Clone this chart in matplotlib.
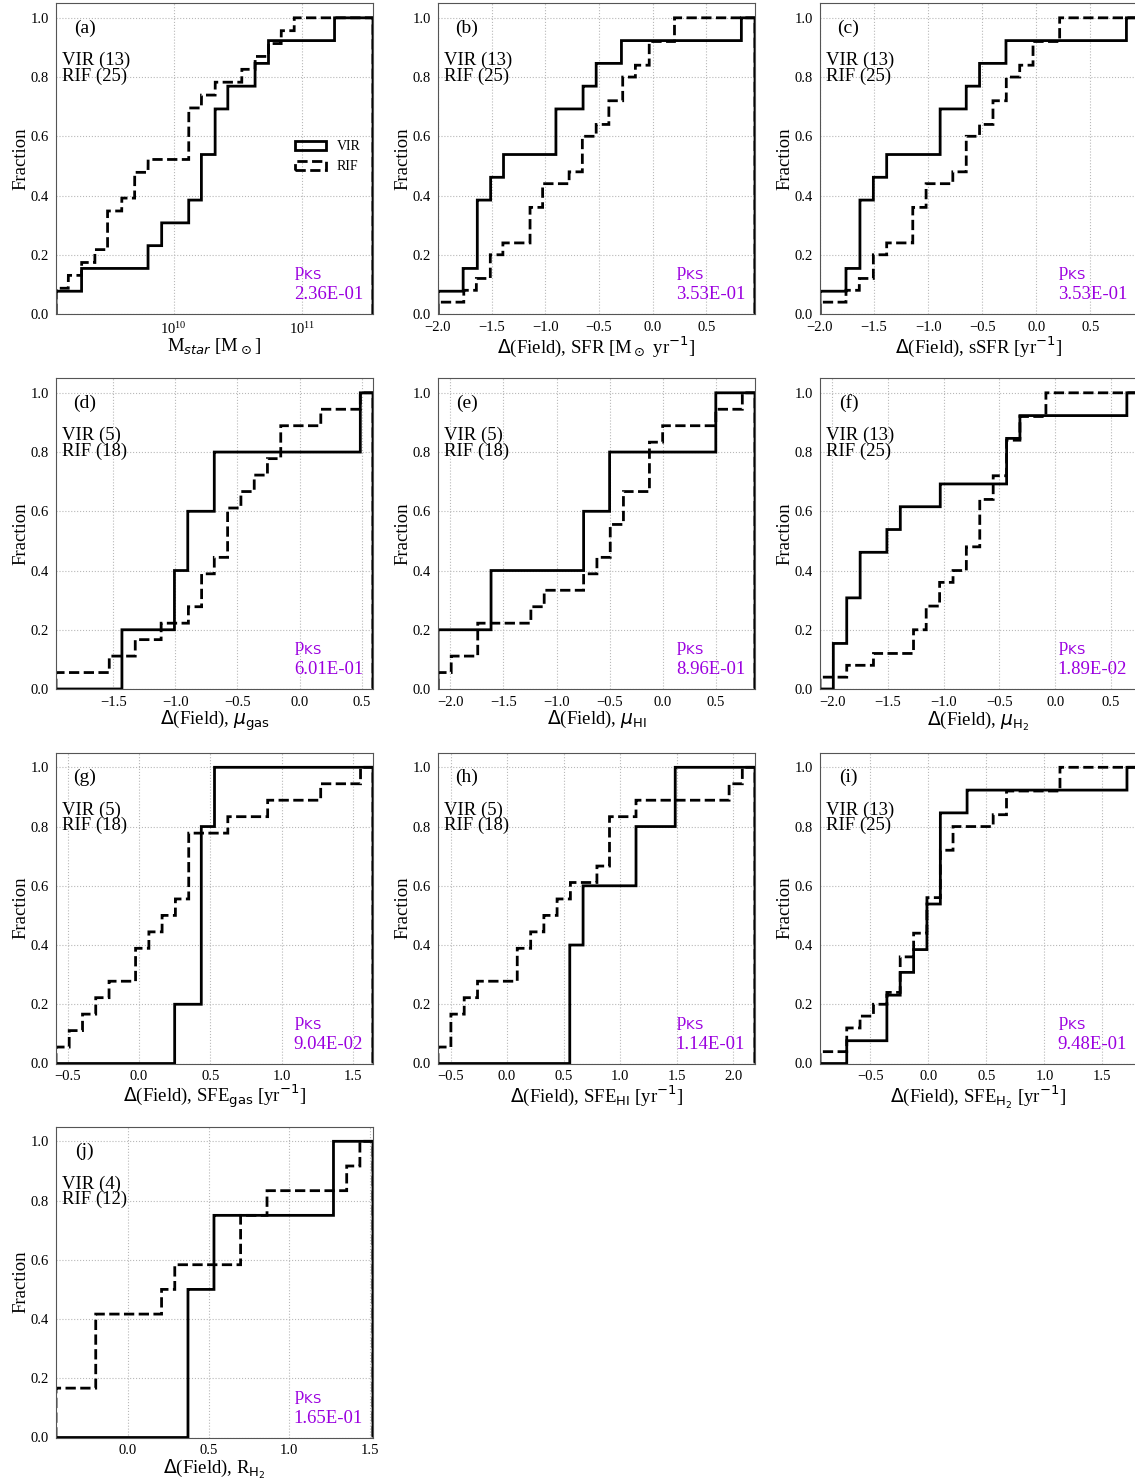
import numpy as np
import matplotlib
matplotlib.use('Agg')
import matplotlib.pyplot as plt

plt.rcParams['font.family'] = 'serif'
plt.rcParams['font.serif'] = ['Liberation Serif', 'DejaVu Serif']
plt.rcParams['mathtext.fontset'] = 'dejavusans'

FIG_W, FIG_H = 1135, 1483
PURPLE = '#9b00e0'

# (a) log10 stellar mass
mstar_vir = [9.081, 9.281, 9.80, 9.906, 10.117, 10.216, 10.216, 10.323, 10.323,
             10.422, 10.635, 10.740, 11.255]
mstar_rif = [9.081, 9.081, 9.177, 9.281, 9.385, 9.484, 9.484, 9.484, 9.594, 9.695,
             9.695, 9.80, 10.117, 10.117, 10.117, 10.117, 10.216, 10.323, 10.531,
             10.635, 10.740, 10.839, 10.940]
# (b) SFR
sfr_vir = [-2.0, -1.765, -1.633, -1.633, -1.633, -1.509, -1.389, -0.901, -0.901,
           -0.648, -0.525, -0.290, 0.827]
sfr_rif = [-2.0, -1.759, -1.642, -1.512, -1.512, -1.395, -1.142, -1.142, -1.142,
           -1.025, -1.025, -0.778, -0.654, -0.654, -0.654, -0.525, -0.407, -0.407,
           -0.278, -0.278, -0.160, -0.031, -0.031, 0.204, 0.204]
# (c) sSFR
ssfr_vir = [-2.0, -1.759, -1.630, -1.630, -1.630, -1.506, -1.383, -0.889, -0.889,
            -0.648, -0.525, -0.281, 0.833]
ssfr_rif = [-2.0, -1.759, -1.636, -1.506, -1.506, -1.383, -1.142, -1.142, -1.142,
            -1.019, -1.019, -0.772, -0.648, -0.648, -0.648, -0.525, -0.401, -0.401,
            -0.278, -0.278, -0.154, -0.031, -0.031, 0.216, 0.216]
# (d) mu_gas
mugas_vir = [-1.430, -1.007, -0.900, -0.686, 0.489]
mugas_rif = [-1.961, -1.532, -1.323, -1.114, -0.895, -0.788, -0.788, -0.686, -0.579,
             -0.579, -0.579, -0.472, -0.365, -0.258, -0.151, -0.151, 0.171, 0.489]
# (e) mu_HI
muhi_vir = [-2.116, -1.616, -0.744, -0.5, 0.5]
muhi_rif = [-2.116, -1.991, -1.741, -1.741, -1.241, -1.116, -0.744, -0.619, -0.494,
            -0.494, -0.369, -0.369, -0.125, -0.125, -0.125, 0.0, 0.5, 0.75]
# (f) mu_H2
muh2_vir = [-1.988, -1.988, -1.868, -1.868, -1.748, -1.748, -1.508, -1.388, -1.029,
            -0.435, -0.435, -0.315, 0.644]
muh2_rif = [-2.108, -1.868, -1.628, -1.269, -1.269, -1.155, -1.155, -1.035, -1.035,
            -0.915, -0.795, -0.795, -0.675, -0.675, -0.675, -0.675, -0.555, -0.555,
            -0.435, -0.435, -0.435, -0.315, -0.315, -0.082, -0.082]
# (g) SFE_gas
sfegas_vir = [0.251, 0.437, 0.437, 0.437, 0.530]
sfegas_rif = [-0.581, -0.488, -0.395, -0.302, -0.209, -0.023, -0.023, 0.070, 0.163,
              0.256, 0.349, 0.349, 0.349, 0.349, 0.623, 0.902, 1.274, 1.553]
# (h) SFE_HI
sfehi_vir = [0.555, 0.555, 0.673, 1.142, 1.489]
sfehi_rif = [-0.611, -0.496, -0.496, -0.379, -0.261, 0.091, 0.091, 0.209, 0.326,
             0.443, 0.561, 0.796, 0.907, 0.907, 0.907, 1.142, 1.965, 2.082]
# (i) SFE_H2
sfeh2_vir = [-0.703, -0.357, -0.357, -0.242, -0.127, -0.012, -0.012, 0.104, 0.104,
             0.104, 0.104, 0.334, 1.712]
sfeh2_rif = [-0.934, -0.703, -0.703, -0.588, -0.473, -0.357, -0.242, -0.242, -0.242,
             -0.127, -0.127, -0.012, -0.012, -0.012, 0.104, 0.104, 0.104, 0.104,
             0.213, 0.213, 0.559, 0.674, 0.674, 1.135, 1.135]
# (j) R_H2
rh2_vir = [0.372, 0.372, 0.533, 1.274]
rh2_rif = [-0.447, -0.447, -0.200, -0.200, -0.200, 0.208, 0.290, 0.698, 0.698,
           0.862, 1.356, 1.438]

panel_tags = ['(a)', '(b)', '(c)', '(d)', '(e)', '(f)', '(g)', '(h)', '(i)', '(j)']
vir_counts = [13, 13, 13, 5, 5, 13, 5, 5, 13, 4]
rif_counts = [25, 25, 25, 18, 18, 25, 18, 18, 25, 12]
p_ks = [2.36e-01, 3.53e-01, 3.53e-01, 6.01e-01, 8.96e-01, 1.89e-02,
        9.04e-02, 1.14e-01, 9.48e-01, 1.65e-01]
x_labels = [
    r'M$_{star}$ [M$_\odot$]',
    r'$\Delta$(Field), SFR [M$_\odot$ yr$^{-1}$]',
    r'$\Delta$(Field), sSFR [yr$^{-1}$]',
    r'$\Delta$(Field), $\mu_{\rm gas}$',
    r'$\Delta$(Field), $\mu_{\rm HI}$',
    r'$\Delta$(Field), $\mu_{\rm H_2}$',
    r'$\Delta$(Field), SFE$_{\rm gas}$ [yr$^{-1}$]',
    r'$\Delta$(Field), SFE$_{\rm HI}$ [yr$^{-1}$]',
    r'$\Delta$(Field), SFE$_{\rm H_2}$ [yr$^{-1}$]',
    r'$\Delta$(Field), R$_{\rm H_2}$',
]
x_ranges = [(9.081, 11.555), (-2.0, 0.954), (-2.0, 0.93), (-1.961, 0.591),
            (-2.116, 0.869), (-2.108, 0.734), (-0.581, 1.640), (-0.611, 2.194),
            (-0.934, 1.798), (-0.447, 1.519)]
vir_data = [mstar_vir, sfr_vir, ssfr_vir, mugas_vir, muhi_vir, muh2_vir,
            sfegas_vir, sfehi_vir, sfeh2_vir, rh2_vir]
rif_data = [mstar_rif, sfr_rif, ssfr_rif, mugas_rif, muhi_rif, muh2_rif,
            sfegas_rif, sfehi_rif, sfeh2_rif, rh2_rif]

COL_LEFT = [56, 438, 820]
ROW_BOTTOM = [314, 689, 1063.5, 1437.5]
AX_W, AX_H = 317, 311


def cdf_panel(ax, vir, rif, xr, log=False):
    lo, hi = xr
    if log:
        bins = np.logspace(lo, hi, 3001)
        vir = 10 ** np.array(vir)
        rif = 10 ** np.array(rif)
    else:
        bins = np.linspace(lo, hi, 3001)
        vir = np.array(vir)
        rif = np.array(rif)
    ax.hist(vir, bins=bins, weights=np.ones(len(vir)) / len(vir), cumulative=True,
            histtype='step', color='black', lw=2.0, ls='-', label='VIR')
    ax.hist(rif, bins=bins, weights=np.ones(len(rif)) / len(rif), cumulative=True,
            histtype='step', color='black', lw=2.0, ls='--', label='RIF')
    if log:
        ax.set_xscale('log')
        ax.set_xlim(10 ** lo, 10 ** hi)
    else:
        ax.set_xlim(lo, hi)
    ax.set_ylim(0, 1.05)


fig = plt.figure(figsize=(FIG_W / 100, FIG_H / 100), dpi=100)

for i in range(10):
    row, col = divmod(i, 3)
    ax = fig.add_axes([COL_LEFT[col] / FIG_W, 1 - ROW_BOTTOM[row] / FIG_H,
                       AX_W / FIG_W, AX_H / FIG_H])
    cdf_panel(ax, vir_data[i], rif_data[i], x_ranges[i], log=(i == 0))
    ax.set_axisbelow(True)
    ax.grid(True, ls=':', color='#b8b8b8', lw=0.8)
    ax.set_yticks([0.0, 0.2, 0.4, 0.6, 0.8, 1.0])
    ax.tick_params(which='both', length=0, labelsize=10.5, pad=5)
    for s in ax.spines.values():
        s.set_color('#555555')
    ax.set_ylabel('Fraction', fontsize=13.5, labelpad=1)
    ax.set_xlabel(x_labels[i], fontsize=13.5, labelpad=0)

    ax.text(0.09, 0.92, panel_tags[i], transform=ax.transAxes, fontsize=14,
            ha='center', va='center')
    ax.text(0.02, 0.8, f'VIR ({vir_counts[i]})', transform=ax.transAxes,
            fontsize=13.5, ha='left', va='baseline')
    ax.text(0.02, 0.75, f'RIF ({rif_counts[i]})', transform=ax.transAxes,
            fontsize=13.5, ha='left', va='baseline')
    ax.text(0.75, 0.035, r'p$_{\rm KS}$' + '\n' + '%.2E' % p_ks[i],
            transform=ax.transAxes, fontsize=13.5, color=PURPLE,
            ha='left', va='bottom', linespacing=1.3)

    if i == 0:
        ax.legend(loc='center right', bbox_to_anchor=(1.0, 0.505), frameon=False,
                  fontsize=10, handlelength=2.2)

fig.savefig('out.png', dpi=100)
